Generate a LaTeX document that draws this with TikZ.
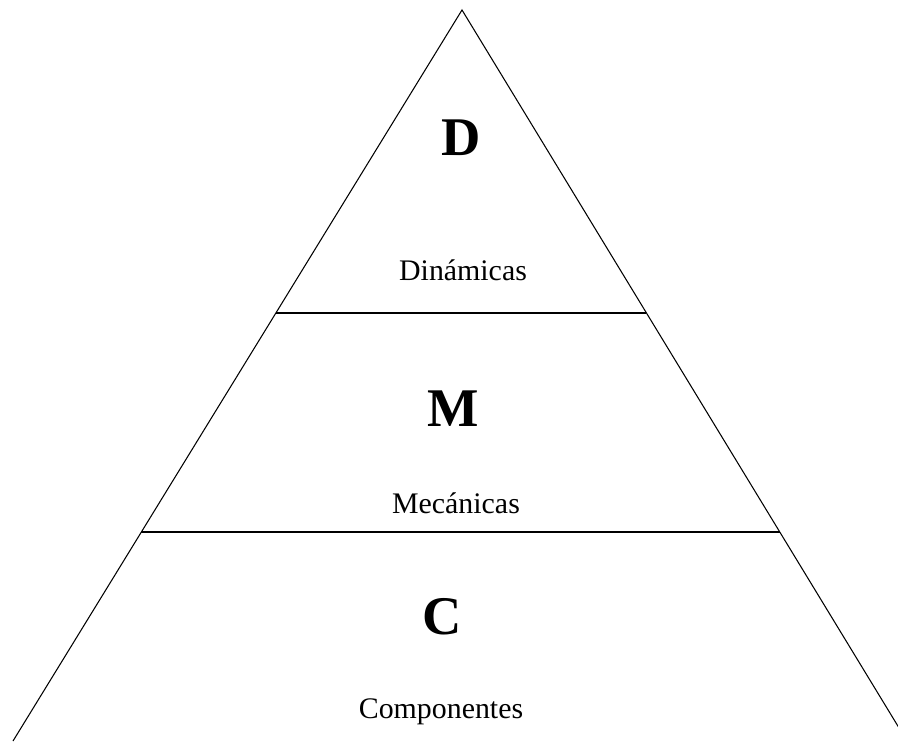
\documentclass[tikz,border=0pt]{standalone}
\usepackage{fontspec}
\setmainfont{Liberation Serif}
\usetikzlibrary{calc}

\begin{document}
\begin{tikzpicture}[x=0.02cm, y=-0.02cm,
  letra/.style={font=\fontsize{31}{32}\selectfont\bfseries},
  nivel/.style={font=\fontsize{17}{20}\selectfont},
  borde/.style={line width=0.6pt},
]
\useasboundingbox (0,0) rectangle (898,742);
\clip (0,0) rectangle (898,742);

%% Pyramid
\coordinate (apex) at (462,10);
\coordinate (izq)  at (13,741);
\coordinate (der)  at (907,741);
\draw[borde] (izq) -- (apex) -- (der);
\draw[borde] ($(apex)!303/731!(izq)$) -- ($(apex)!303/731!(der)$);
\draw[borde] ($(apex)!522/731!(izq)$) -- ($(apex)!522/731!(der)$);

%% Levels
\node[letra] (d)    at (461,138) {D};
\node[nivel] (din)  at (463,270) {Dinámicas};
\node[letra] (m)    at (453,409) {M};
\node[nivel] (mec)  at (456,503) {Mecánicas};
\node[letra] (c)    at (442,617) {C};
\node[nivel] (comp) at (441,712) {Componentes};

\end{tikzpicture}
\end{document}
